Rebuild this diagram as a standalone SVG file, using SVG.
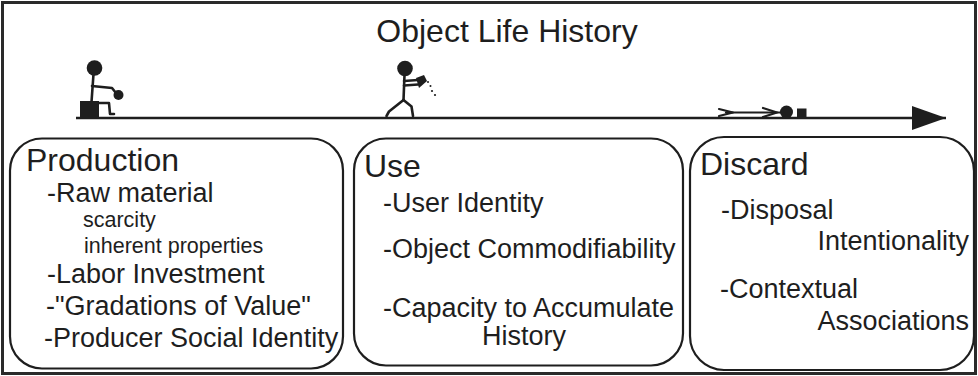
<svg xmlns="http://www.w3.org/2000/svg" width="978" height="376" viewBox="0 0 978 376">
  <style>
    text { font-family: "Liberation Sans", Arial, sans-serif; fill: #1e1e1e; }
    .title { font-size: 32px; }
    .head { font-size: 32px; }
    .item { font-size: 27px; }
    .sub { font-size: 21.5px; }
    .box { fill: #ffffff; stroke: #1e1e1e; stroke-width: 2.2; }
    .fig { stroke: #1e1e1e; stroke-width: 2.6; fill: none; stroke-linecap: round; stroke-linejoin: round; }
    .thin { stroke-width: 2.2; }
    .solid { fill: #1e1e1e; stroke: none; }
  </style>
  <defs>
    <marker id="arrowHead" markerWidth="36" markerHeight="28" refX="34" refY="14" orient="auto" markerUnits="userSpaceOnUse">
      <path d="M0,2 L34,14 L0,26 Z" fill="#1e1e1e"/>
    </marker>
  </defs>

  <!-- outer frame -->
  <rect x="2.5" y="2.5" width="973" height="371" fill="#ffffff" stroke="#2a2a2a" stroke-width="3"/>

  <text class="title" x="507" y="42" text-anchor="middle">Object Life History</text>

  <!-- time line -->
  <g id="connectors">
    <line x1="76" y1="118" x2="946" y2="118" stroke="#1e1e1e" stroke-width="2.6" marker-end="url(#arrowHead)"/>
  </g>

  <!-- maker seated on a block, holding a pot -->
  <g id="figure-maker">
    <circle cx="94.5" cy="68" r="7.8" class="solid"/>
    <line class="fig" x1="93.5" y1="74" x2="91.5" y2="102"/>
    <polyline class="fig" points="92,86 112,88 116,93"/>
    <circle cx="118.5" cy="95" r="5" class="solid"/>
    <rect x="80" y="101" width="19" height="16" class="solid"/>
    <polyline class="fig" points="96,103 109,103 110,114 114,114"/>
  </g>

  <!-- user walking and pouring from a pot -->
  <g id="figure-user">
    <circle cx="405" cy="68.5" r="7.8" class="solid"/>
    <line class="fig" x1="404.5" y1="75" x2="403.5" y2="100"/>
    <line class="fig" x1="404" y1="81" x2="418" y2="80"/>
    <line class="fig" x1="404" y1="85.5" x2="418" y2="84.5"/>
    <path d="M416,78 L424,75 L427,81 L419,88 Z" class="solid"/>
    <circle cx="428" cy="82" r="1" class="solid"/>
    <circle cx="430.5" cy="86" r="1" class="solid"/>
    <circle cx="432" cy="91" r="1.1" class="solid"/>
    <circle cx="435" cy="95" r="1.1" class="solid"/>
    <polyline class="fig" points="403.5,100 389,111.5 386.5,116"/>
    <polyline class="fig" points="403.5,100 411.5,106.5 413,116"/>
  </g>

  <!-- discarded figure lying down, pot beside it -->
  <g id="figure-discard">
    <polyline class="fig thin" points="719,109 733,112.5 719,116"/>
    <line class="fig thin" x1="726" y1="112.5" x2="782" y2="112.5"/>
    <polyline class="fig thin" points="763,108 777,112.5 763,117"/>
    <circle cx="786.5" cy="112" r="6.5" class="solid"/>
    <rect x="797" y="108.5" width="9.5" height="9" class="solid"/>
  </g>

  <!-- Production -->
  <g id="node-production">
    <rect class="box" x="10" y="138.5" width="333" height="230" rx="32" ry="32"/>
    <text class="head" x="26" y="171">Production</text>
    <text class="item" x="47" y="202">-Raw material</text>
    <text class="sub" x="83" y="227">scarcity</text>
    <text class="sub" x="84" y="253">inherent properties</text>
    <text class="item" x="47" y="283">-Labor Investment</text>
    <text class="item" x="46" y="315">-"Gradations of Value"</text>
    <text class="item" x="44" y="347">-Producer Social Identity</text>
  </g>

  <!-- Use -->
  <g id="node-use">
    <rect class="box" x="354" y="138.5" width="329" height="227" rx="32" ry="32"/>
    <text class="head" x="364" y="177">Use</text>
    <text class="item" x="383" y="212">-User Identity</text>
    <text class="item" x="383" y="258">-Object Commodifiability</text>
    <text class="item" x="383" y="317">-Capacity to Accumulate</text>
    <text class="item" x="524" y="345" text-anchor="middle">History</text>
  </g>

  <!-- Discard -->
  <g id="node-discard">
    <rect class="box" x="690" y="137" width="284" height="233" rx="34" ry="34"/>
    <text class="head" x="700" y="175">Discard</text>
    <text class="item" x="721" y="219">-Disposal</text>
    <text class="item" x="969" y="250" text-anchor="end">Intentionality</text>
    <text class="item" x="720" y="298">-Contextual</text>
    <text class="item" x="969" y="330" text-anchor="end">Associations</text>
  </g>
</svg>
